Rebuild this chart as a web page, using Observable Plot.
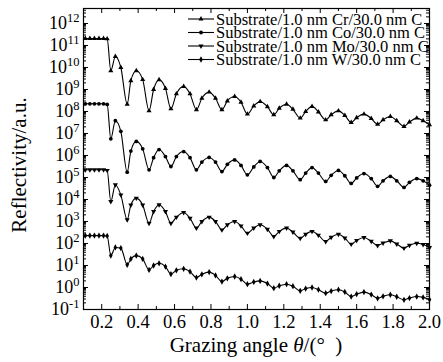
<!DOCTYPE html>
<html><head><meta charset="utf-8">
<script src="https://cdn.jsdelivr.net/npm/d3@7"></script>
<script src="https://cdn.jsdelivr.net/npm/@observablehq/plot@0.6"></script>
<style>body{margin:0;background:#fff;}</style>
</head><body><div id="chart"></div>
<script>
// Grazing angle (degrees)
const angles = [0.11,0.135,0.16,0.185,0.21,0.23,0.25,0.275,0.305,0.34,0.36,0.39,0.425,0.46,0.485,0.515,0.55,0.58,0.61,0.65,0.685,0.72,0.75,0.79,0.825,0.86,0.89,0.93,0.965,1.0,1.035,1.07,1.11,1.145,1.175,1.215,1.25,1.29,1.32,1.355,1.39,1.43,1.46,1.5,1.535,1.57,1.6,1.64,1.68,1.715,1.745,1.785,1.82,1.86,1.89,1.93,1.965,2.0];
const crValues = [2.09e11,2.09e11,2.09e11,2.09e11,2.09e11,2.0e11,7.08e9,3.16e10,1.0e10,2.14e8,2.51e9,7.08e9,2.82e9,1.07e8,1.0e9,2.75e9,1.12e9,1.32e8,6.31e8,1.38e9,6.31e8,1.2e8,3.98e8,7.59e8,3.98e8,1.2e8,3.02e8,4.79e8,2.63e8,7.59e7,1.78e8,2.82e8,1.66e8,7.08e7,1.41e8,2.14e8,1.26e8,5.01e7,1.0e8,1.7e8,9.55e7,4.17e7,7.08e7,1.07e8,6.61e7,3.16e7,5.25e7,7.59e7,4.79e7,2.63e7,4.17e7,5.89e7,3.8e7,2.09e7,3.31e7,5.01e7,3.8e7,2.51e7];
const coValues = [2.24e8,2.24e8,2.24e8,2.24e8,2.24e8,2.1e8,5.75e6,3.8e7,1.26e7,1.74e5,1.58e6,4.37e6,2.0e6,2.24e5,7.94e5,1.86e6,8.91e5,3.16e5,8.91e5,1.51e6,7.94e5,2.24e5,5.01e5,8.13e5,5.01e5,1.86e5,3.98e5,6.31e5,3.55e5,1.32e5,3.02e5,5.37e5,2.82e5,1.0e5,2.0e5,3.55e5,2.0e5,7.94e4,1.58e5,2.82e5,1.58e5,6.61e4,1.26e5,2.09e5,1.2e5,5.37e4,9.55e4,1.51e5,8.91e4,3.98e4,7.08e4,1.12e5,7.08e4,3.55e4,6.03e4,8.91e4,7.08e4,4.47e4];
const moValues = [2.24e5,2.24e5,2.24e5,2.24e5,2.24e5,2.1e5,8.13e3,4.68e4,1.62e4,1.2e3,5.62e3,1.15e4,5.62e3,832,2.82e3,5.75e3,2.82e3,832,1.58e3,2.57e3,1.41e3,501,1.0e3,1.58e3,1.0e3,417,708,1.0e3,631,295,501,708,447,209,355,501,331,174,263,355,240,123,191,263,178,93.3,138,186,126,81.3,105,132,95.5,61.7,83.2,102,89.1,66.1];
const wValues = [229,229,229,229,229,220,28.2,66.1,61.7,10.7,20.0,28.2,20.0,6.31,10.0,12.6,8.91,4.07,6.03,7.08,5.25,2.82,3.98,5.01,3.55,1.86,2.63,3.16,2.4,1.41,1.78,2.0,1.51,0.933,1.2,1.41,1.15,0.708,0.891,1.0,0.794,0.55,0.692,0.794,0.631,0.389,0.501,0.617,0.479,0.324,0.398,0.468,0.38,0.275,0.331,0.389,0.355,0.282];
const seriesNames = ["Substrate/1.0 nm Cr/30.0 nm C","Substrate/1.0 nm Co/30.0 nm C","Substrate/1.0 nm Mo/30.0 nm C","Substrate/1.0 nm W/30.0 nm C"];
const xMajorTicks = [0.2,0.4,0.6,0.8,1.0,1.2,1.4,1.6,1.8,2.0];
const xMinorTicks = [0.1,0.3,0.5,0.7,0.9,1.1,1.3,1.5,1.7,1.9];
const yDecades = [1e-1,1e0,1e1,1e2,1e3,1e4,1e5,1e6,1e7,1e8,1e9,1e10,1e11,1e12];
const yTop = 4.8e12;

const triangleDown = {
  draw(context, size) {
    const s3 = Math.sqrt(3);
    const y = -Math.sqrt(size / (s3 * 3));
    context.moveTo(0, -y * 2);
    context.lineTo(-s3 * y, y);
    context.lineTo(s3 * y, y);
    context.closePath();
  }
};
const plotSymbols = ["triangle", "circle", triangleDown, "diamond"];
const d3Symbols = [d3.symbolTriangle, d3.symbolCircle, triangleDown, d3.symbolDiamond];
const seriesValues = [crValues, coValues, moValues, wValues];
const rows = seriesNames.flatMap((name, i) => angles.map((x, j) => ({name, x, y: seriesValues[i][j]})));

const yMinor = [];
for (const dec of yDecades) for (let k = 2; k <= 9; k++) { if (dec * k < yTop) yMinor.push(dec * k); }

const W = 443, H = 362, ML = 83, MR = 14, MT = 8, MB = 53;
const fw = W - ML - MR, fh = H - MT - MB;
const font = '"Liberation Serif", "Times New Roman", serif';
const dotR = 1.9;

const svg = Plot.plot({
  width: W, height: H,
  marginLeft: ML, marginRight: MR, marginTop: MT, marginBottom: MB,
  style: {fontFamily: font, background: "white", color: "black"},
  x: {domain: [0.1, 2.0], axis: null},
  y: {type: "log", domain: [0.1, yTop], axis: null},
  marks: [
    Plot.tickX(xMajorTicks, {x: d => d, insetTop: fh - 5, stroke: "black"}),
    Plot.tickX(xMajorTicks, {x: d => d, insetBottom: fh - 5, stroke: "black"}),
    Plot.tickX(xMinorTicks, {x: d => d, insetTop: fh - 3, stroke: "black"}),
    Plot.tickX(xMinorTicks, {x: d => d, insetBottom: fh - 3, stroke: "black"}),
    Plot.tickY(yDecades, {y: d => d, insetRight: fw - 5, stroke: "black"}),
    Plot.tickY(yDecades, {y: d => d, insetLeft: fw - 5, stroke: "black"}),
    Plot.tickY(yMinor, {y: d => d, insetRight: fw - 3, stroke: "black"}),
    Plot.tickY(yMinor, {y: d => d, insetLeft: fw - 3, stroke: "black"}),
    Plot.frame({stroke: "black", strokeWidth: 1.2}),
    Plot.axisX({ticks: xMajorTicks, tickSize: 0, tickPadding: 5, tickFormat: d3.format(".1f"), fontSize: 18.5, label: null}),
    Plot.axisY({ticks: yDecades, tickSize: 0, tickPadding: 4, tickFormat: d => "10^" + Math.round(Math.log10(d)), fontSize: 18, label: null}),
    Plot.line(rows, {x: "x", y: "y", z: "name", curve: "monotone-x", stroke: "black", strokeWidth: 1.1}),
    ...seriesNames.map((name, i) => Plot.dot(rows.filter(r => r.name === name), {x: "x", y: "y", symbol: plotSymbols[i], fill: "black", stroke: "none", r: dotR}))
  ]
});

const s = d3.select(svg);
// superscript exponents on y tick labels
s.selectAll('g[aria-label="y-axis tick label"] text').each(function () {
  const parts = this.textContent.split("^");
  this.textContent = parts[0];
  d3.select(this).append("tspan").attr("dy", "-7").attr("font-size", "12.5px").text(parts[1]);
});

// axis titles
s.append("text")
  .attr("transform", "translate(19,165) rotate(-90)")
  .attr("text-anchor", "middle").attr("dy", "0.35em")
  .attr("font-family", font).attr("font-size", 21).attr("fill", "black")
  .text("Reflectivity/a.u.");
const xt = s.append("text")
  .attr("x", 256).attr("y", 352).attr("text-anchor", "middle")
  .attr("font-family", font).attr("font-size", 21).attr("fill", "black");
xt.append("tspan").text("Grazing angle ");
xt.append("tspan").attr("font-style", "italic").text("θ");
xt.append("tspan").text("/(°\u00a0\u00a0)");

// legend
const lg = s.append("g").attr("text-anchor", "start");
seriesNames.forEach((name, i) => {
  const y = 19 + i * 13.5;
  lg.append("line").attr("x1", 188).attr("x2", 214).attr("y1", y).attr("y2", y).attr("stroke", "black").attr("stroke-width", 1.1);
  lg.append("path").attr("transform", `translate(201,${y})`).attr("d", d3.symbol().type(d3Symbols[i]).size(Math.PI * dotR * dotR)()).attr("fill", "black");
  lg.append("text").attr("x", 216).attr("y", y).attr("dy", "0.35em").attr("text-anchor", "start")
    .attr("font-family", font).attr("font-size", 16.5).attr("fill", "black").text(name);
});

document.getElementById("chart").appendChild(svg);
</script>
</body></html>
